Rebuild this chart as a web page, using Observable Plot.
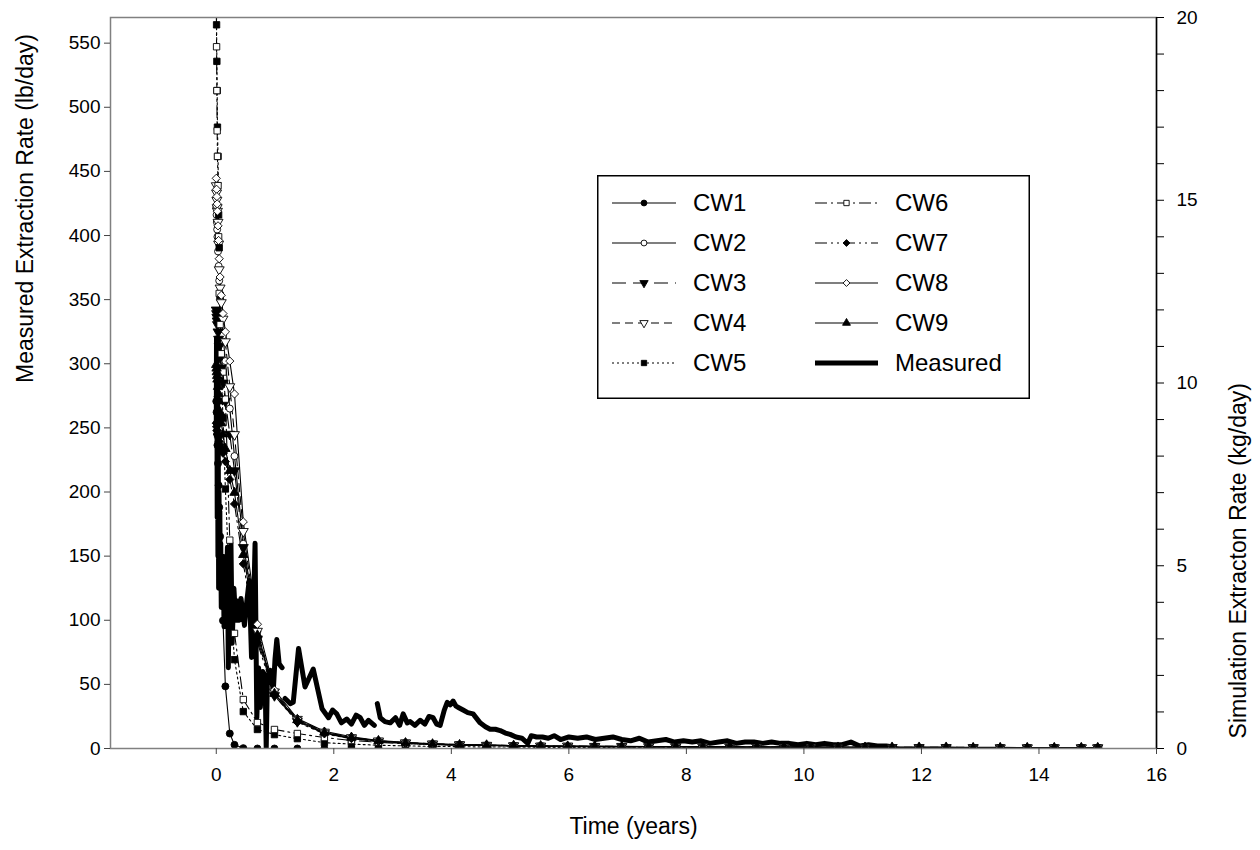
<!DOCTYPE html>
<html>
<head>
<meta charset="utf-8">
<script src="https://cdn.jsdelivr.net/npm/d3@7"></script>
<script src="https://cdn.jsdelivr.net/npm/@observablehq/plot@0.6"></script>
<style>
  html, body { margin: 0; padding: 0; background: #fff; }
  #wrap { position: relative; width: 1260px; height: 850px; font-family: "Liberation Sans", Arial, sans-serif; }
  #legend { position: absolute; left: 597px; top: 175px; }
</style>
</head>
<body>
<div id="wrap"><div id="chart"></div><div id="legend"></div></div>
<script>
// ---------------- data ----------------
const xDomain = [-1.8, 16];
const xTicks = [0, 2, 4, 6, 8, 10, 12, 14, 16];
const leftTicks = [0, 50, 100, 150, 200, 250, 300, 350, 400, 450, 500, 550];
const leftTop = 570;          // lb/day at top of frame
const rightTicks = [0,1,2,3,4,5,6,7,8,9,10,11,12,13,14,15,16,17,18,19,20];
const rightLabels = ["0","","","","","5","","","","","10","","","","","15","","","","","20"];
const rightTop = 20;          // kg/day at top of frame

const simTime = [0, 0.005, 0.01, 0.015, 0.02, 0.03, 0.04, 0.05, 0.065, 0.085,
  0.114, 0.155, 0.23, 0.31, 0.46, 0.70, 0.99, 1.38, 1.84, 2.30,
  2.76, 3.22, 3.68, 4.14, 4.60, 5.06, 5.52, 5.98, 6.44, 6.90,
  7.36, 7.82, 8.28, 8.74, 9.20, 9.66, 10.12, 10.58, 11.04, 11.50,
  11.96, 12.42, 12.88, 13.34, 13.80, 14.26, 14.72, 15.00];

const cw1 = [9.5, 9.2, 8.9, 8.6, 8.3, 7.8, 7.2, 6.6, 5.8, 4.8,
  3.5, 1.7, 0.41, 0.10, 0.01, 0, 0, 0, 0, 0,
  0, 0, 0, 0, 0, 0, 0, 0, 0, 0, 0, 0, 0, 0, 0, 0, 0, 0, 0, 0, 0, 0, 0, 0, 0, 0, 0, 0];
const cw2 = [14.8, 14.6, 14.4, 14.2, 14.0, 13.6, 13.2, 12.8, 12.3, 11.8,
  11.3, 10.6, 9.3, 8.0, 5.6, 3.2, 1.5, 0.75, 0.42, 0.28,
  0.20, 0.15, 0.12, 0.10, 0.09, 0.08, 0.07, 0.06, 0.06, 0.05,
  0.05, 0.05, 0.04, 0.04, 0.04, 0.04, 0.03, 0.03, 0.03, 0.03,
  0.03, 0.03, 0.02, 0.02, 0.02, 0.02, 0.02, 0.02];
const cw3 = [12.0, 11.9, 11.8, 11.7, 11.6, 11.4, 11.2, 11.0, 10.7, 10.4,
  10.0, 9.5, 8.6, 7.6, 5.5, 3.0, 1.45, 0.74, 0.41, 0.27,
  0.19, 0.14, 0.11, 0.09, 0.08, 0.07, 0.06, 0.06, 0.05, 0.05,
  0.05, 0.04, 0.04, 0.04, 0.04, 0.03, 0.03, 0.03, 0.03, 0.03,
  0.02, 0.02, 0.02, 0.02, 0.02, 0.02, 0.02, 0.02];
const cw4 = [15.4, 15.2, 15.0, 14.8, 14.7, 14.4, 13.8, 13.1, 12.6, 12.2,
  11.75, 11.13, 9.9, 8.59, 5.94, 3.21, 1.55, 0.80, 0.45, 0.30,
  0.21, 0.16, 0.13, 0.11, 0.09, 0.08, 0.07, 0.07, 0.06, 0.06,
  0.05, 0.05, 0.05, 0.04, 0.04, 0.04, 0.04, 0.03, 0.03, 0.03,
  0.03, 0.03, 0.03, 0.02, 0.02, 0.02, 0.02, 0.02];
const cw5 = [21.5, 19.8, 18.8, 18.0, 17.0, 16.2, 14.6, 13.7, 12.4, 10.4,
  9.04, 7.1, 4.3, 2.43, 1.01, 0.52, 0.38, 0.27, 0.16, 0.12,
  0.09, 0.07, 0.06, 0.05, 0.04, 0.04, 0.03, 0.03, 0.03, 0.02,
  0.02, 0.02, 0.02, 0.02, 0.01, 0.01, 0.01, 0.01, 0.01, 0.01,
  0.01, 0.01, 0.01, 0.01, 0.01, 0.01, 0.01, 0.01];
const cw6 = [20.6, 19.2, 18.0, 16.9, 16.2, 15.4, 14.0, 12.45, 11.6, 10.8,
  10.3, 9.56, 5.7, 3.15, 1.34, 0.71, 0.52, 0.41, 0.30, 0.22,
  0.17, 0.13, 0.11, 0.09, 0.08, 0.07, 0.06, 0.05, 0.05, 0.04,
  0.04, 0.04, 0.03, 0.03, 0.03, 0.03, 0.02, 0.02, 0.02, 0.02,
  0.02, 0.02, 0.02, 0.01, 0.01, 0.01, 0.01, 0.01];
const cw7 = [8.9, 8.8, 8.7, 8.7, 8.6, 8.55, 8.5, 8.4, 8.3, 8.2,
  8.08, 7.85, 7.36, 6.69, 5.05, 2.9, 1.45, 0.72, 0.40, 0.27,
  0.19, 0.14, 0.11, 0.09, 0.08, 0.07, 0.06, 0.05, 0.05, 0.05,
  0.04, 0.04, 0.04, 0.04, 0.03, 0.03, 0.03, 0.03, 0.03, 0.02,
  0.02, 0.02, 0.02, 0.02, 0.02, 0.02, 0.02, 0.02];
const cw8 = [15.6, 15.3, 15.1, 14.9, 14.7, 14.3, 13.9, 13.4, 12.9, 12.4,
  11.9, 11.4, 10.6, 9.7, 6.2, 3.4, 1.6, 0.82, 0.47, 0.32,
  0.22, 0.17, 0.13, 0.11, 0.10, 0.08, 0.07, 0.07, 0.06, 0.06,
  0.05, 0.05, 0.05, 0.04, 0.04, 0.04, 0.04, 0.03, 0.03, 0.03,
  0.03, 0.03, 0.03, 0.03, 0.02, 0.02, 0.02, 0.02];
const cw9 = [10.5, 10.4, 10.3, 10.2, 10.1, 9.9, 9.7, 9.5, 9.2, 8.9,
  8.6, 8.2, 7.6, 7.0, 5.3, 3.1, 1.5, 0.78, 0.44, 0.30,
  0.21, 0.15, 0.12, 0.10, 0.09, 0.08, 0.07, 0.06, 0.06, 0.05,
  0.05, 0.05, 0.04, 0.04, 0.04, 0.04, 0.03, 0.03, 0.03, 0.03,
  0.03, 0.03, 0.02, 0.02, 0.02, 0.02, 0.02, 0.02];

// measured (lb/day); null = gap in record
const measTime = [0.000, 0.004, 0.010, 0.016, 0.022, 0.028, 0.034, 0.040, 0.047, 0.054,
  0.061, 0.068, 0.076, 0.085, 0.095, 0.105, 0.118, 0.132, 0.150, 0.170,
  0.190, 0.205, 0.225, 0.250, 0.270, 0.300, 0.330, 0.360, 0.390, 0.420,
  0.450, 0.480, 0.520, 0.560, 0.600, 0.630, 0.660, 0.690, 0.720, 0.750,
  0.790, 0.830, 0.850, 0.870, 0.920, 0.970, 1.000, 1.030, 1.070, 1.120,
  1.145,
  1.170, 1.260, 1.310, 1.400, 1.510, 1.580, 1.650, 1.800, 1.910, 1.980,
  2.050, 2.130, 2.220, 2.300, 2.380, 2.450, 2.520, 2.590, 2.690,
  2.715,
  2.740, 2.790, 2.870, 2.960, 3.050, 3.120, 3.180, 3.250, 3.300, 3.380,
  3.470, 3.550, 3.620, 3.690, 3.750, 3.810, 3.880, 3.930, 3.980, 4.030,
  4.080, 4.120, 4.200, 4.280, 4.370, 4.490, 4.580, 4.660, 4.750, 4.830,
  4.920, 5.000, 5.100, 5.200, 5.300, 5.360, 5.450, 5.550, 5.650, 5.750,
  5.860, 6.000, 6.150, 6.300, 6.450, 6.600, 6.750, 6.900, 7.050, 7.200,
  7.350, 7.500, 7.650, 7.800, 7.950, 8.100, 8.250, 8.400, 8.550, 8.700,
  8.850, 9.000, 9.150, 9.300, 9.450, 9.600, 9.750, 9.900, 10.050, 10.200,
  10.350, 10.500, 10.650, 10.800, 10.950, 11.100, 11.250, 11.400, 11.550];
const measValue = [250, 320, 300, 180, 290, 150, 240, 125, 200, 140,
  185, 125, 160, 110, 150, 130, 150, 95, 140, 120,
  157, 63, 140, 160, 82, 125, 100, 115, 100, 117,
  107, 96, 115, 131, 71, 100, 160, 24, 63, 32,
  60, 57, 0, 55, 61, 45, 70, 85, 66, 63,
  null,
  39, 35, 36, 78, 48, 55, 62, 31, 24, 30,
  27, 20, 23, 19, 26, 24, 18, 22, 18,
  null,
  35, 24, 21, 20, 24, 18, 27, 20, 21, 18,
  22, 19, 25, 24, 19, 18, 30, 36, 34, 37,
  33, 32, 30, 28, 27, 20, 17, 15, 15, 14,
  12, 11, 9, 8, 4, 10, 9, 9, 8, 10,
  7, 9, 8, 9, 7, 8, 9, 7, 6, 8,
  5, 6, 7, 5, 6, 5, 6, 4, 5, 6,
  4, 5, 5, 4, 5, 4, 4, 3, 4, 3,
  4, 3, 3, 5, 2, 3, 2, 2, 1];

const seriesNames = ["CW1","CW2","CW3","CW4","CW5","CW6","CW7","CW8","CW9"];
const seriesValues = [cw1, cw2, cw3, cw4, cw5, cw6, cw7, cw8, cw9];
// style per series: symbol, filled, rotate, dash
const seriesStyle = [
  {symbol: "circle",   fill: "black", rotate: 0,   dash: null,              r: 3.5},
  {symbol: "circle",   fill: "white", rotate: 0,   dash: null,              r: 3.5},
  {symbol: "triangle", fill: "black", rotate: 180, dash: "14,7",            r: 3.7},
  {symbol: "triangle", fill: "white", rotate: 180, dash: "8,5",             r: 3.7},
  {symbol: "square",   fill: "black", rotate: 0,   dash: "2,3",             r: 3.6},
  {symbol: "square",   fill: "white", rotate: 0,   dash: "12,4,2,4",        r: 3.6},
  {symbol: "diamond2", fill: "black", rotate: 0,   dash: "12,4,2,4,2,4",    r: 3.7},
  {symbol: "diamond2", fill: "white", rotate: 0,   dash: null,              r: 3.7},
  {symbol: "triangle", fill: "black", rotate: 0,   dash: null,              r: 3.5}
];

// ---------------- chart ----------------
const kgToAxis = leftTop / rightTop;
const simRows = seriesNames.map((name, k) =>
  simTime.map((t, i) => ({name, t, v: seriesValues[k][i] * kgToAxis})));
const measRows = measTime.map((t, i) => ({t, v: measValue[i]}));

const lineMarks = simRows.map((rows, k) => Plot.line(rows, {
  x: "t", y: "v", stroke: "black", strokeWidth: 1.1,
  strokeDasharray: seriesStyle[k].dash || undefined, clip: true
}));
const dotMarks = simRows.map((rows, k) => Plot.dot(rows, {
  x: "t", y: "v", symbol: seriesStyle[k].symbol, r: seriesStyle[k].r,
  fill: seriesStyle[k].fill, stroke: "black", strokeWidth: 0.9,
  rotate: seriesStyle[k].rotate, clip: true
}));

const chart = Plot.plot({
  width: 1260,
  height: 850,
  marginLeft: 110,
  marginRight: 104,
  marginTop: 17,
  marginBottom: 102,
  style: {fontFamily: '"Liberation Sans", Arial, sans-serif', fontSize: "19px", color: "black", background: "white"},
  x: {domain: xDomain},
  y: {domain: [0, leftTop]},
  marks: [
    ...lineMarks,
    Plot.line(measRows, {x: "t", y: "v", stroke: "black", strokeWidth: 5, strokeLinejoin: "round", clip: true}),
    ...dotMarks,
    Plot.frame({stroke: "#808080", strokeWidth: 1.5}),
    Plot.ruleX([xDomain[1]], {stroke: "black", strokeWidth: 1.5}),
    Plot.axisX(xTicks, {tickSize: 6, tickPadding: 13, label: null, fontSize: 19, stroke: "#444"}),
    Plot.axisY(leftTicks, {anchor: "left", tickSize: 6, tickPadding: 4, label: null, fontSize: 19, stroke: "#444"}),
    Plot.axisY(rightTicks.map(k => k * kgToAxis), {anchor: "right", tickSize: 7, tickPadding: 13, label: null, fontSize: 19,
      tickFormat: (d, i) => rightLabels[i]}),
    Plot.text(["Measured Extraction Rate (lb/day)"], {frameAnchor: "left", dx: -85, rotate: -90, fontSize: 23}),
    Plot.text(["Simulation Extracton Rate (kg/day)"], {frameAnchor: "right", dx: 82, rotate: -90, fontSize: 23}),
    Plot.text(["Time (years)"], {frameAnchor: "bottom", dy: 85, fontSize: 23})
  ]
});
document.getElementById("chart").appendChild(chart);

// ---------------- legend ----------------
const legendNames = ["CW1","CW2","CW3","CW4","CW5","CW6","CW7","CW8","CW9","Measured"];
const lw = 433, lh = 224;
const lsvg = d3.select("#legend").append("svg").attr("width", lw).attr("height", lh)
  .style("font-family", '"Liberation Sans", Arial, sans-serif');
lsvg.append("rect").attr("x", 0.75).attr("y", 0.75).attr("width", lw - 1.5).attr("height", lh - 1.5)
  .attr("fill", "white").attr("stroke", "black").attr("stroke-width", 1.5);
const symMap = {circle: d3.symbolCircle, square: d3.symbolSquare, triangle: d3.symbolTriangle, diamond2: d3.symbolDiamond2};
legendNames.forEach((name, i) => {
  const col = i < 5 ? 0 : 1, row = i % 5;
  const x0 = col === 0 ? 15 : 218, x1 = col === 0 ? 79 : 281;
  const xm = (x0 + x1) / 2, y = 28 + row * 40;
  const tx = col === 0 ? 96 : 298;
  const g = lsvg.append("g");
  if (name === "Measured") {
    g.append("line").attr("x1", x0).attr("x2", x1).attr("y1", y).attr("y2", y)
      .attr("stroke", "black").attr("stroke-width", 5);
  } else {
    const st = seriesStyle[i];
    g.append("line").attr("x1", x0).attr("x2", x1).attr("y1", y).attr("y2", y)
      .attr("stroke", "black").attr("stroke-width", 1.1)
      .attr("stroke-dasharray", st.dash);
    g.append("path").attr("d", d3.symbol(symMap[st.symbol], Math.PI * st.r * st.r * 0.7)())
      .attr("transform", `translate(${xm},${y}) rotate(${st.rotate})`)
      .attr("fill", st.fill).attr("stroke", "black").attr("stroke-width", 0.9);
  }
  g.append("text").attr("x", tx).attr("y", y).attr("dy", "0.35em")
    .attr("font-size", 24).attr("fill", "black").text(name);
});
</script>
</body>
</html>
